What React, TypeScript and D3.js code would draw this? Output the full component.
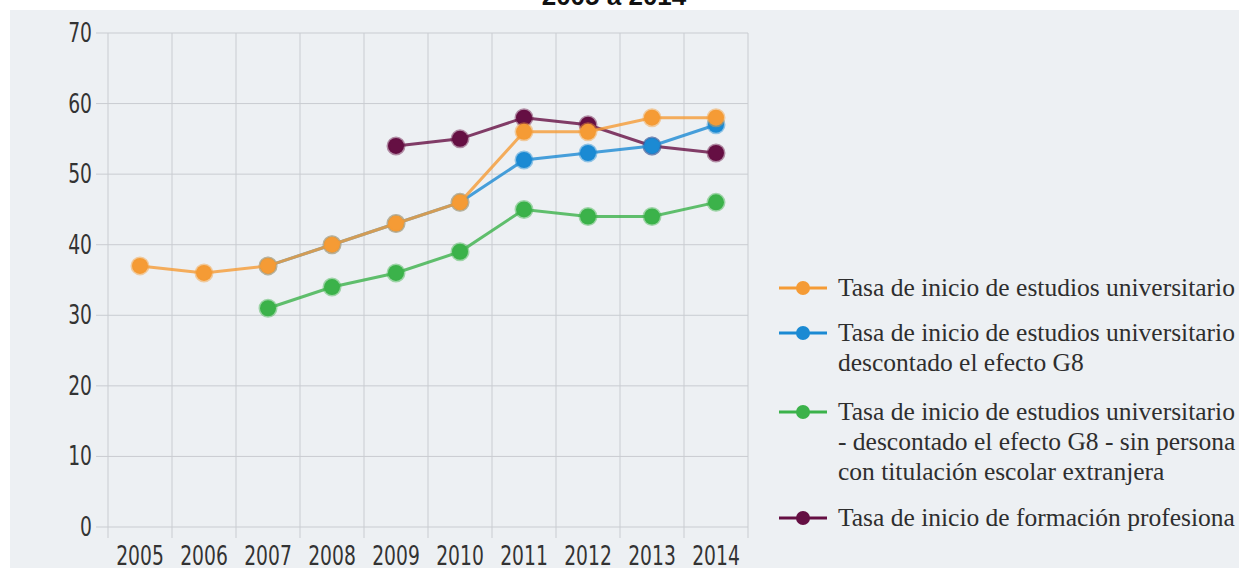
import * as d3 from "d3";

const years = ["2005", "2006", "2007", "2008", "2009", "2010", "2011", "2012", "2013", "2014"];
const yTicks = [0, 10, 20, 30, 40, 50, 60, 70];

// null = no value that year
const universitarios = [37, 36, 37, 40, 43, 46, 56, 56, 58, 58];
const sinG8 = [null, null, 37, 40, 43, 46, 52, 53, 54, 57];
const sinExtranjeros = [null, null, 31, 34, 36, 39, 45, 44, 44, 46];
const formacionProfesional = [null, null, null, null, 54, 55, 58, 57, 54, 53];

const legendLabels = [
    ["Tasa de inicio de estudios universitario"],
    ["Tasa de inicio de estudios universitario", "descontado el efecto G8"],
    [
        "Tasa de inicio de estudios universitario",
        "- descontado el efecto G8 - sin persona",
        "con titulación escolar extranjera",
    ],
    ["Tasa de inicio de formación profesiona"],
];
const colors = ["#f59b35", "#1b8ad3", "#3bb24a", "#650f43"];
const title = "2005 a 2014";

const width = 1239;
const height = 568;
const marginLeft = 108;
const plotRight = 748;
const marginTop = 33;
const plotBottom = 527;

const tickFont = "'DejaVu Sans Condensed', 'DejaVu Sans', sans-serif";
const legendFont = "'Liberation Serif', 'DejaVu Serif', serif";
const squeeze = 0.8; // the reference uses a narrow face for the axis numbers

export default function App() {
    const x = d3.scaleBand(years, [marginLeft, plotRight]);
    const y = d3.scaleLinear([0, 70], [plotBottom, marginTop]);
    const cx = (i: number) => (x(years[i]) ?? 0) + x.bandwidth() / 2;

    const line = d3
        .line<number | null>()
        .defined((d) => d != null)
        .x((_d, i) => cx(i))
        .y((d) => y(d as number));

    // drawing order: purple at the bottom, orange on top
    const series = [
        { values: formacionProfesional, color: colors[3] },
        { values: sinExtranjeros, color: colors[2] },
        { values: sinG8, color: colors[1] },
        { values: universitarios, color: colors[0] },
    ];

    const gridX = [...years.map((yr) => x(yr) ?? 0), plotRight];

    // legend rows: first line y of each entry
    const legendY = [288, 333, 412, 518];
    const lineGap = 30;

    return (
        <div style={{ position: "absolute", left: 0, top: 0, width, height, overflow: "hidden" }}>
            <svg width={width} height={height} style={{ display: "block" }}>
                <rect x={0} y={0} width={width} height={height} fill="#ffffff" />
                <text
                    x={614}
                    y={5}
                    textAnchor="middle"
                    fontFamily="'Liberation Sans', Arial, sans-serif"
                    fontWeight="bold"
                    fontSize={26}
                    fill="#111"
                >
                    {title}
                </text>
                <rect x={10} y={10} width={width - 10} height={height - 10} fill="#edf0f3" />

                {/* grid */}
                <g stroke="#c9ccd1" strokeWidth={1}>
                    {yTicks.map((t) => (
                        <line key={t} x1={96} x2={plotRight} y1={y(t)} y2={y(t)} />
                    ))}
                    {gridX.map((gx, i) => (
                        <line key={i} x1={gx} x2={gx} y1={marginTop} y2={538} />
                    ))}
                </g>

                <g fontFamily={tickFont} fontSize={26} fill="#333">
                    {yTicks.map((t) => (
                        <text
                            key={t}
                            transform={`translate(92,${y(t) + 9}) scale(${squeeze},1)`}
                            textAnchor="end"
                        >
                            {t}
                        </text>
                    ))}
                    {years.map((yr, i) => (
                        <text
                            key={yr}
                            transform={`translate(${cx(i)},565) scale(${squeeze},1)`}
                            textAnchor="middle"
                        >
                            {yr}
                        </text>
                    ))}
                </g>

                {series.map((s, k) => (
                    <g key={k}>
                        <path
                            d={line(s.values) || ""}
                            fill="none"
                            stroke={s.color}
                            strokeWidth={3}
                            strokeOpacity={0.8}
                        />
                        {s.values.map((v, i) =>
                            v == null ? null : (
                                <circle
                                    key={i}
                                    cx={cx(i)}
                                    cy={y(v)}
                                    r={8}
                                    fill={s.color}
                                    stroke={s.color}
                                    strokeOpacity={0.45}
                                    strokeWidth={3}
                                />
                            )
                        )}
                    </g>
                ))}

                {/* legend */}
                {legendLabels.map((lines, k) => (
                    <g key={k}>
                        <line
                            x1={779}
                            x2={827}
                            y1={legendY[k]}
                            y2={legendY[k]}
                            stroke={colors[k]}
                            strokeWidth={3}
                        />
                        <circle cx={803} cy={legendY[k]} r={7} fill={colors[k]} />
                        {lines.map((txt, j) => (
                            <text
                                key={j}
                                x={838}
                                y={legendY[k] + j * lineGap + 8}
                                fontFamily={legendFont}
                                fontSize={25.5}
                                fill="#2e2e2e"
                            >
                                {txt}
                            </text>
                        ))}
                    </g>
                ))}
            </svg>
        </div>
    );
}
